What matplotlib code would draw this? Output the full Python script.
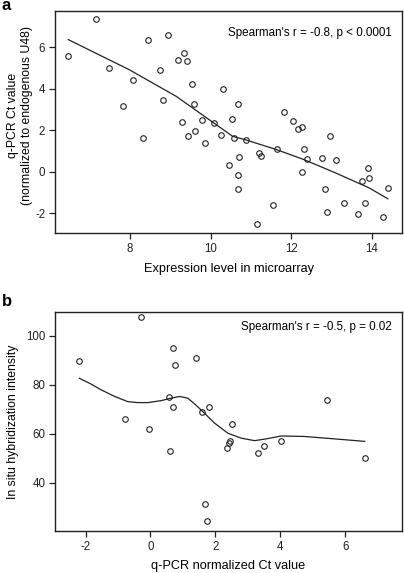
import matplotlib
matplotlib.use("Agg")
import matplotlib.pyplot as plt

plt.rcParams['font.family'] = ['Liberation Sans', 'DejaVu Sans']
plt.rcParams['axes.unicode_minus'] = False

# panel a: expression level in microarray vs q-PCR Ct value
expr_a = [6.47, 7.15, 7.49, 7.83, 8.07, 8.32, 8.44, 8.74, 8.83, 8.95,
          9.20, 9.33, 9.42, 9.30, 9.43, 9.55, 9.58, 9.61, 9.78, 9.85,
          10.08, 10.27, 10.30, 10.45, 10.53, 10.59, 10.67, 10.71, 10.69, 10.69,
          10.88, 11.19, 11.25, 11.14, 11.55, 11.64, 11.82, 12.05, 12.16, 12.27,
          12.26, 12.33, 12.40, 12.77, 12.83, 12.90, 12.97, 13.12, 13.30, 13.66,
          13.75, 13.83, 13.91, 13.93, 14.27, 14.40]
ct_a = [5.61, 7.37, 5.02, 3.16, 4.44, 1.62, 6.38, 4.89, 3.49, 6.60,
        5.42, 5.74, 5.35, 2.40, 1.75, 4.23, 3.29, 1.99, 2.52, 1.41,
        2.36, 1.79, 3.99, 0.32, 2.56, 1.65, 3.29, 0.72, -0.16, -0.82,
        1.54, 0.91, 0.75, -2.50, -1.61, 1.09, 2.89, 2.43, 2.07, 2.16,
        -0.02, 1.12, 0.64, 0.69, -0.85, -1.94, 1.75, 0.59, -1.48, -2.02,
        -0.45, -1.48, 0.19, -0.29, -2.18, -0.77]
# smoothed trend
fit_a_x = [6.47, 7.99, 9.15, 10.08, 10.55, 10.88, 11.64, 12.32, 13.10, 13.93, 14.40]
fit_a_y = [6.38, 4.92, 3.64, 2.36, 1.71, 1.54, 1.07, 0.59, -0.05, -0.77, -1.30]

# panel b: q-PCR normalized Ct vs in situ hybridization intensity
ct_b = [-2.19, -0.77, -0.03, -0.30, 0.56, 0.61, 0.68, 0.71, 0.76, 1.41,
        1.60, 1.80, 1.67, 1.74, 2.52, 2.44, 2.41, 2.37, 3.31, 3.50,
        4.01, 5.43, 6.60]
ish_b = [89.8, 65.9, 62.0, 107.5, 75.0, 53.0, 71.0, 94.9, 87.9, 90.9,
         68.9, 71.1, 31.2, 24.5, 64.0, 57.2, 56.2, 54.3, 52.1, 55.1,
         57.0, 73.9, 50.2]
fit_b_x = [-2.19, -1.85, -1.52, -1.10, -0.70, -0.40, -0.08, 0.33, 0.64, 0.90,
           1.15, 1.35, 1.56, 1.98, 2.39, 2.80, 3.21, 3.60, 4.03, 4.75, 5.60, 6.60]
fit_b_y = [82.6, 80.4, 77.9, 75.2, 73.1, 72.7, 72.7, 73.5, 74.5, 75.2,
           74.5, 72.3, 69.7, 64.3, 60.2, 58.2, 57.2, 58.0, 59.1, 58.9, 58.0, 56.9]

fig = plt.figure(figsize=(4.04, 5.73), dpi=100)
W, H = 404, 573


def make_axes(l, t, r, b):
    return fig.add_axes([l / W, 1 - b / H, (r - l) / W, (b - t) / H])


def style(ax):
    for s in ax.spines.values():
        s.set_linewidth(1.0)
        s.set_color('#222222')
    ax.tick_params(direction='out', length=4, width=0.9, labelsize=8.3,
                   colors='#222222', pad=3)


ax1 = make_axes(55, 11, 402, 233)
ax1.plot(expr_a, ct_a, 'o', mfc='none', mec='#222222', ms=4, mew=0.8)
ax1.plot(fit_a_x, fit_a_y, '-', color='#222222', lw=0.9)
ax1.set_xlim(6.14, 14.75)
ax1.set_ylim(-2.95, 7.76)
ax1.set_xticks([8, 10, 12, 14])
ax1.set_yticks([-2, 0, 2, 4, 6])
style(ax1)
ax1.set_xlabel('Expression level in microarray', fontsize=9.2, labelpad=6)
ax1.set_ylabel('q-PCR Ct value\n(normalized to endogenous U48)', fontsize=8.8,
               linespacing=1.2)
ax1.yaxis.set_label_coords(-0.063, 0.53)
ax1.text(0.97, 0.9, "Spearman's r = -0.8, p < 0.0001", transform=ax1.transAxes,
         ha='right', va='center', fontsize=8.4)

ax2 = make_axes(55, 312, 402, 531)
ax2.plot(ct_b, ish_b, 'o', mfc='none', mec='#222222', ms=4, mew=0.8)
ax2.plot(fit_b_x, fit_b_y, '-', color='#222222', lw=0.9)
ax2.set_xlim(-2.94, 7.75)
ax2.set_ylim(20.4, 109.6)
ax2.set_xticks([-2, 0, 2, 4, 6])
ax2.set_yticks([40, 60, 80, 100])
style(ax2)
ax2.set_xlabel('q-PCR normalized Ct value', fontsize=9.2, labelpad=5)
ax2.set_ylabel('In situ hybridization intensity', fontsize=8.8)
ax2.yaxis.set_label_coords(-0.103, 0.5)
ax2.text(0.97, 0.93, "Spearman's r = -0.5, p = 0.02", transform=ax2.transAxes,
         ha='right', va='center', fontsize=8.4)

fig.text(2 / W, 1 - 6 / H, 'a', fontsize=12, fontweight='bold', va='center')
fig.text(2 / W, 1 - 302 / H, 'b', fontsize=12, fontweight='bold', va='center')

fig.savefig('out.png', dpi=100)
